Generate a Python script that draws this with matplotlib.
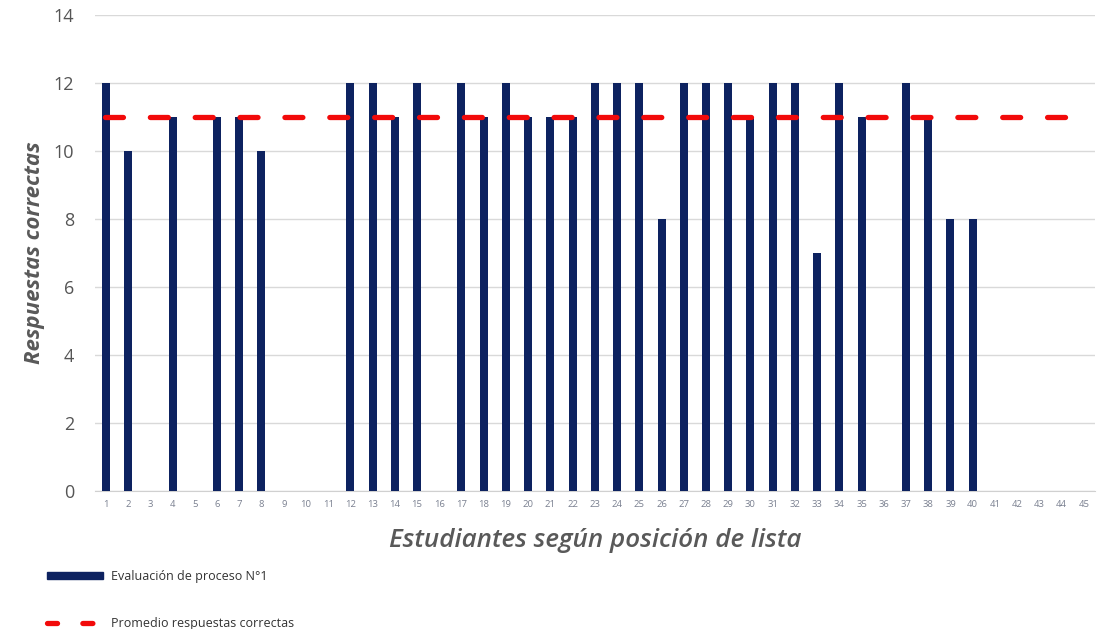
import matplotlib
matplotlib.use("Agg")
import matplotlib.pyplot as plt
from matplotlib.lines import Line2D
from matplotlib.patches import Patch

students = list(range(1, 46))
scores = [12, 10, 0, 11, 0, 11, 11, 10, 0, 0, 0, 12, 12, 11, 12, 0, 12, 11, 12, 11,
          11, 11, 12, 12, 12, 8, 12, 12, 12, 11, 12, 12, 7, 12, 11, 0, 12, 11, 8, 8,
          0, 0, 0, 0, 0]
average = 11
yticks = [0, 2, 4, 6, 8, 10, 12, 14]

plt.rcParams['font.family'] = ['Open Sans', 'DejaVu Sans']

fig = plt.figure(figsize=(11.15, 6.29), dpi=100)
ax = fig.add_axes([0.085, 0.219, 0.897, 0.757])

navy = '#0d2260'
red = '#f20a0a'
ax.bar(students, scores, width=0.36, color=navy, zorder=3)
ax.plot([0.95, 45.0], [average, average], color=red, lw=3.8,
        dashes=(3.4, 5.1), dash_capstyle='round', zorder=4)

ax.set_xlim(0.5, 45.5)
ax.set_ylim(0, 14)
ax.set_yticks(yticks)
ax.set_yticklabels([str(v) for v in yticks], fontsize=13, color='#555555')
ax.set_xticks(students)
ax.set_xticklabels([str(s) for s in students], fontsize=6.8, color='#7a8090')
ax.tick_params(axis='both', length=0)
ax.tick_params(axis='y', pad=15)
ax.tick_params(axis='x', pad=6)
ax.grid(axis='y', color='#d9d9d9', lw=1, zorder=0)
for s in ['top', 'right', 'left']:
    ax.spines[s].set_visible(False)
ax.spines['bottom'].set_color('#d0d0d0')

ax.set_ylabel('Respuestas correctas', fontsize=16, fontstyle='italic',
              fontweight='bold', color='#595959', labelpad=6)
ax.set_xlabel('Estudiantes según posición de lista', fontsize=18.7,
              fontstyle='italic', fontweight='semibold', color='#595959', labelpad=14)

handles = [Patch(color=navy),
           Line2D([0], [0], color=red, lw=3.8, dashes=(1.9, 4.8), dash_capstyle='round')]
fig.legend(handles, ['Evaluación de proceso N°1', 'Promedio respuestas correctas'],
           loc='upper left', bbox_to_anchor=(0.032, 0.112), frameon=False,
           fontsize=9, labelcolor='#333333', handlelength=4.5, handleheight=0.5,
           labelspacing=2.7, handletextpad=0.6)

fig.savefig('out.png', dpi=100, facecolor='white')
